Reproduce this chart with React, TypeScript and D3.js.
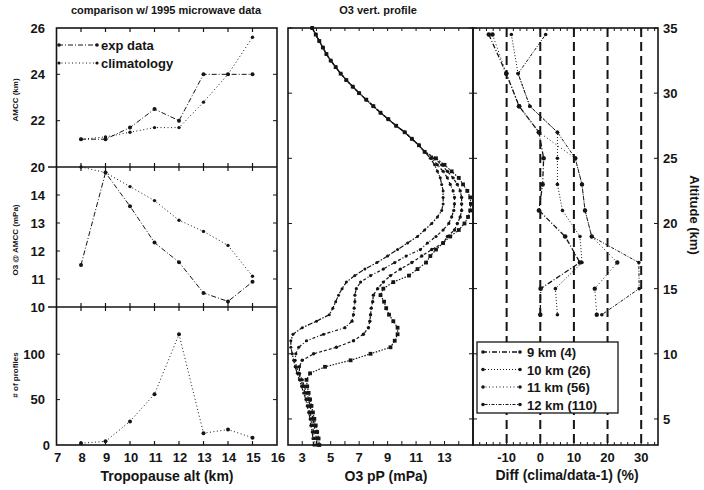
import React from 'react';
import * as d3 from 'd3';

// ---- left column: vs tropopause altitude ----
const tropoKm = [8, 9, 10, 11, 12, 13, 14, 15];
const expAmcc = [21.2, 21.2, 21.7, 22.5, 22.0, 24.0, 24.0, 24.0];
const climAmcc = [21.2, 21.3, 21.5, 21.7, 21.7, 22.8, 24.0, 25.6];
const expO3 = [11.5, 14.8, 13.6, 12.3, 11.6, 10.5, 10.2, 10.9];
const climO3 = [15.0, 14.8, 14.3, 13.8, 13.1, 12.7, 12.2, 11.1];
const nProfiles = [2, 4, 26, 56, 122, 13, 17, 8];

// ---- middle: O3 vertical profiles (partial pressure, mPa) ----
const upperAlt = [35, 34.5, 34, 33.5, 33, 32.5, 32, 31.5, 31, 30.5, 30, 29.5, 29, 28.5, 28, 27.5, 27, 26.5, 26, 25.5];
const upperO3 = [3.7, 3.95, 4.2, 4.45, 4.7, 5.0, 5.35, 5.7, 6.1, 6.55, 7.0, 7.5, 8.0, 8.5, 9.05, 9.6, 10.2, 10.7, 11.2, 11.6];
const lowerAlt = [25, 24.5, 24, 23.5, 23, 22.5, 22, 21.5, 21, 20.5, 20, 19.5, 19, 18.5, 18, 17.5, 17, 16.5, 16, 15.5, 15, 14.5, 14, 13.5, 13, 12.5, 12, 11.5, 11, 10.5, 10, 9.5, 9, 8.5, 8, 7.5, 7, 6.5, 6, 5.5, 5, 4.5, 4, 3.5, 3];
const prof12 = [12.0, 12.3, 12.5, 12.7, 12.8, 12.9, 12.9, 12.9, 12.8, 12.5, 12.1, 11.6, 11.1, 10.4, 9.7, 9.0, 8.25, 7.4, 6.7, 6.1, 5.8, 5.55, 5.35, 5.15, 4.9, 4.0, 3.0, 2.35, 2.2, 2.2, 2.3, 2.4, 2.5, 2.65, 2.8, 2.95, 3.1, 3.25, 3.35, 3.45, 3.55, 3.6, 3.7, 3.75, 3.8];
const prof11 = [12.1, 12.5, 12.9, 13.2, 13.4, 13.6, 13.7, 13.7, 13.65, 13.5, 13.3, 12.9, 12.4, 11.8, 11.3, 10.3, 9.5, 8.7, 7.8, 7.1, 6.8, 6.7, 6.7, 6.65, 6.6, 6.5, 6.0, 4.5, 3.3, 2.75, 2.55, 2.5, 2.6, 2.75, 2.9, 3.05, 3.2, 3.35, 3.45, 3.55, 3.65, 3.7, 3.8, 3.85, 3.9];
const prof10 = [12.3, 12.8, 13.2, 13.6, 13.9, 14.1, 14.2, 14.2, 14.2, 14.1, 13.9, 13.7, 13.2, 12.9, 12.1, 11.4, 10.7, 9.9, 9.2, 8.7, 8.3, 8.0, 7.95, 7.85, 7.8, 7.75, 7.65, 7.3, 6.6, 5.4, 3.8, 3.0, 2.8, 2.8, 3.0, 3.15, 3.3, 3.45, 3.55, 3.65, 3.75, 3.85, 3.9, 4.0, 4.05];
const prof9 = [12.4, 13.0, 13.5, 14.0, 14.3, 14.6, 14.8, 14.85, 14.8, 14.65, 14.4, 14.0, 13.4, 12.9, 12.4, 12.0, 11.7, 11.1, 10.5, 9.4, 8.7, 8.5, 8.75, 8.9, 9.1, 9.4, 9.7, 9.7, 9.5, 9.2, 7.8, 6.4, 4.6, 3.55, 3.3, 3.35, 3.45, 3.55, 3.65, 3.75, 3.85, 3.95, 4.05, 4.15, 4.2];

// ---- right: climatology / data - 1 (%) ----
const diffAlt = [34.5, 31.5, 29, 27, 25, 23, 21, 19, 17, 15, 13];
const diff9 = [-15.3, -10.1, -6.3, -0.4, 1.0, 0.7, -0.4, 7.4, 11.8, 0.1, 0.0];
const diff10 = [-8.6, -6.6, -3.1, 5.1, 5.1, 5.1, 6.6, 11.8, 12.4, 4.5, 5.1];
const diff11 = [-14.2, -10.1, -6.3, -0.4, 10.4, 12.4, 13.3, 15.3, 22.9, 16.2, 16.8];
const diff12 = [1.6, -6.6, -3.1, 5.1, 10.4, 12.4, 13.3, 15.3, 29.3, 29.4, 18.3];
const diffLabels = ['9 km (4)', '10 km (26)', '11 km (56)', '12 km (110)'];

const leftXTicks = [7, 8, 9, 10, 11, 12, 13, 14, 15, 16];
const midXTicks = [3, 5, 7, 9, 11, 13];
const rightXTicks = [-10, 0, 10, 20, 30];
const altTicks = [5, 10, 15, 20, 25, 30, 35];

const ink = '#151515';
const font = '"Liberation Sans", Arial, Helvetica, sans-serif';

const xL = d3.scaleLinear().domain([7, 16]).range([56.5, 277]);
const yTop = d3.scaleLinear().domain([20, 26]).range([167, 28]);
const yMid = d3.scaleLinear().domain([10, 15]).range([307, 167]);
const yBot = d3.scaleLinear().domain([0, 152]).range([445, 307]);
const xM = d3.scaleLinear().domain([2, 15]).range([288, 473]);
const yAlt = d3.scaleLinear().domain([3, 35]).range([445, 28]);
const xR = d3.scaleLinear().domain([-20, 35]).range([473, 658]);

function Series({ xs, ys, sx, sy, dash, r = 1.8, square = false, width = 1 }: any) {
  const pts: [number, number][] = xs.map((x: number, i: number) => [sx(x), sy(ys[i])]);
  const line = d3.line();
  return (
    <g>
      <path d={line(pts) as string} fill="none" stroke={ink} strokeWidth={width} strokeDasharray={dash} />
      {pts.map((p, i) =>
        square ? (
          <rect key={i} x={p[0] - r} y={p[1] - r} width={r * 2} height={r * 2} fill={ink} />
        ) : (
          <circle key={i} cx={p[0]} cy={p[1]} r={r} fill={ink} />
        )
      )}
    </g>
  );
}

export default function App() {
  const profiles = [
    { o3: prof12, dash: '5,1.5,1.5,1.5', r: 1.5, sq: false },
    { o3: prof11, dash: '3,2,1,2', r: 1.6, sq: false },
    { o3: prof10, dash: '3,2', r: 1.7, sq: false },
    { o3: prof9, dash: '1.5,1.5', r: 1.9, sq: true },
  ];
  const diffs = [
    { v: diff9, dash: '5,2,1,2', r: 2.3, w: 1.3 },
    { v: diff10, dash: '1,2', r: 1.8, w: 1 },
    { v: diff11, dash: '1,2.5', r: 2.2, w: 1 },
    { v: diff12, dash: '1,1.5,3,1.5', r: 1.8, w: 1 },
  ];
  const txt = { fontFamily: font, fill: ink, fontWeight: 700 } as const;

  return (
    <svg width={704} height={490} style={{ position: 'absolute', left: 0, top: 0, background: '#fff' }}>
      <rect width={704} height={490} fill="#fff" />

      {/* titles */}
      <text x={166} y={14} textAnchor="middle" fontSize={11} {...txt}>comparison w/ 1995 microwave data</text>
      <text x={378} y={14} textAnchor="middle" fontSize={11} {...txt}>O3 vert. profile</text>

      {/* ===== left column ===== */}
      <rect x={56.5} y={28} width={220.5} height={417} fill="none" stroke={ink} strokeWidth={1.6} />
      {[167, 307].map((y) => (
        <line key={y} x1={48} x2={277} y1={y} y2={y} stroke={ink} strokeWidth={1.4} />
      ))}
      {[28, 167, 307, 445].map((y) =>
        tropoKm.map((k) => (
          <line key={`${y}-${k}`} x1={xL(k)} x2={xL(k)} y1={y - (y === 28 ? 0 : 4)} y2={y + (y === 445 ? 0 : 4)} stroke={ink} strokeWidth={1.2} />
        ))
      )}
      {[22, 24].map((v) => (
        <g key={v}>
          <line x1={56.5} x2={60} y1={yTop(v)} y2={yTop(v)} stroke={ink} />
          <line x1={273} x2={277} y1={yTop(v)} y2={yTop(v)} stroke={ink} />
        </g>
      ))}
      {[11, 12, 13, 14].map((v) => (
        <g key={v}>
          <line x1={56.5} x2={60} y1={yMid(v)} y2={yMid(v)} stroke={ink} />
          <line x1={273} x2={277} y1={yMid(v)} y2={yMid(v)} stroke={ink} />
        </g>
      ))}
      {[50, 100].map((v) => (
        <g key={v}>
          <line x1={56.5} x2={60} y1={yBot(v)} y2={yBot(v)} stroke={ink} />
          <line x1={273} x2={277} y1={yBot(v)} y2={yBot(v)} stroke={ink} />
        </g>
      ))}
      {[26, 24, 22, 20].map((v) => (
        <text key={v} x={45} y={yTop(v) + 4.5} textAnchor="end" fontSize={13} {...txt}>{v}</text>
      ))}
      {[14, 13, 12, 11, 10].map((v) => (
        <text key={v} x={45} y={yMid(v) + 4.5} textAnchor="end" fontSize={13} {...txt}>{v}</text>
      ))}
      {[100, 50, 0].map((v) => (
        <text key={v} x={v === 0 ? 50 : 45} y={yBot(v) + 4.5} textAnchor="end" fontSize={13} {...txt}>{v}</text>
      ))}
      {leftXTicks.map((v) => (
        <text key={v} x={xL(v) + 1} y={462} textAnchor="middle" fontSize={13} {...txt}>{v}</text>
      ))}
      <text x={167} y={481} textAnchor="middle" fontSize={14} {...txt}>Tropopause alt (km)</text>
      <text transform="translate(18,100) rotate(-90)" textAnchor="middle" fontSize={8} {...txt}>AMCC (km)</text>
      <text transform="translate(18,240) rotate(-90)" textAnchor="middle" fontSize={8} {...txt}>O3 @ AMCC (mPa)</text>
      <text transform="translate(18,375) rotate(-90)" textAnchor="middle" fontSize={8} {...txt}># of profiles</text>

      <Series xs={tropoKm} ys={expAmcc} sx={xL} sy={yTop} dash="5,2,1,2" r={2} />
      <Series xs={tropoKm} ys={climAmcc} sx={xL} sy={yTop} dash="1,2.5" r={1.7} />
      <Series xs={tropoKm} ys={expO3} sx={xL} sy={yMid} dash="5,2,1,2" r={2} />
      <Series xs={tropoKm} ys={climO3} sx={xL} sy={yMid} dash="1,2.5" r={1.7} />
      <Series xs={tropoKm} ys={nProfiles} sx={xL} sy={yBot} dash="1,2.5" r={2} />

      {/* left legend */}
      <g>
        <line x1={58} x2={97} y1={45} y2={45} stroke={ink} strokeDasharray="5,2,1,2" />
        <circle cx={59} cy={45} r={1.8} fill={ink} />
        <circle cx={97} cy={45} r={1.8} fill={ink} />
        <text x={101} y={50} fontSize={13} {...txt}>exp data</text>
        <line x1={58} x2={97} y1={63} y2={63} stroke={ink} strokeDasharray="1,2.5" />
        <circle cx={59} cy={63} r={1.6} fill={ink} />
        <circle cx={97} cy={63} r={1.6} fill={ink} />
        <text x={101} y={68} fontSize={13} {...txt}>climatology</text>
      </g>

      {/* ===== middle: profiles ===== */}
      <rect x={288} y={28} width={185} height={417} fill="none" stroke={ink} strokeWidth={1.6} />
      {d3.range(3, 15).map((v) => (
        <g key={v}>
          <line x1={xM(v)} x2={xM(v)} y1={445} y2={441} stroke={ink} />
          <line x1={xM(v)} x2={xM(v)} y1={28} y2={31} stroke={ink} />
        </g>
      ))}
      {altTicks.map((v) => (
        <g key={v}>
          <line x1={288} x2={292} y1={yAlt(v)} y2={yAlt(v)} stroke={ink} />
          <line x1={469} x2={473} y1={yAlt(v)} y2={yAlt(v)} stroke={ink} />
        </g>
      ))}
      {midXTicks.map((v) => (
        <text key={v} x={xM(v)} y={462} textAnchor="middle" fontSize={13} {...txt}>{v}</text>
      ))}
      <text x={386} y={481} textAnchor="middle" fontSize={14} {...txt}>O3 pP (mPa)</text>
      {profiles.map((p, i) => (
        <Series
          key={i}
          xs={upperO3.concat(p.o3)}
          ys={upperAlt.concat(lowerAlt)}
          sx={xM}
          sy={yAlt}
          dash={p.dash}
          r={p.r}
          square={p.sq}
          width={1.2}
        />
      ))}

      {/* ===== right: differences ===== */}
      <rect x={473} y={28} width={185} height={417} fill="none" stroke={ink} strokeWidth={1.6} />
      {rightXTicks.map((v) => (
        <line key={v} x1={xR(v)} x2={xR(v)} y1={28} y2={445} stroke={ink} strokeWidth={2} strokeDasharray="9,5" />
      ))}
      {d3.range(-18, 35, 2).map((v) => (
        <g key={v}>
          <line x1={xR(v)} x2={xR(v)} y1={445} y2={442} stroke={ink} />
          <line x1={xR(v)} x2={xR(v)} y1={28} y2={31} stroke={ink} />
        </g>
      ))}
      {altTicks.map((v) => (
        <g key={v}>
          <line x1={473} x2={477} y1={yAlt(v)} y2={yAlt(v)} stroke={ink} />
          <line x1={654} x2={658} y1={yAlt(v)} y2={yAlt(v)} stroke={ink} />
          <text x={663} y={yAlt(v) + 5} fontSize={13} {...txt}>{v}</text>
        </g>
      ))}
      {rightXTicks.map((v) => (
        <text key={v} x={xR(v)} y={462} textAnchor="middle" fontSize={13} {...txt}>{v}</text>
      ))}
      <text x={567} y={480} textAnchor="middle" fontSize={14} {...txt}>Diff (clima/data-1) (%)</text>
      <text transform="translate(690,215) rotate(90)" textAnchor="middle" fontSize={13} {...txt}>Altitude (km)</text>
      {diffs.map((s, i) => (
        <Series key={i} xs={s.v} ys={diffAlt} sx={xR} sy={yAlt} dash={s.dash} r={s.r} width={s.w} />
      ))}

      {/* right legend */}
      <rect x={477} y={342} width={141} height={71} fill="#fff" stroke={ink} strokeWidth={1.3} />
      {diffs.map((s, i) => {
        const y = 352 + i * 17.5;
        return (
          <g key={i}>
            <line x1={482} x2={520} y1={y} y2={y} stroke={ink} strokeWidth={s.w} strokeDasharray={s.dash} />
            <circle cx={483} cy={y} r={1.8} fill={ink} />
            <circle cx={520} cy={y} r={1.8} fill={ink} />
            <text x={527} y={y + 5} fontSize={13} {...txt}>{diffLabels[i]}</text>
          </g>
        );
      })}
    </svg>
  );
}
